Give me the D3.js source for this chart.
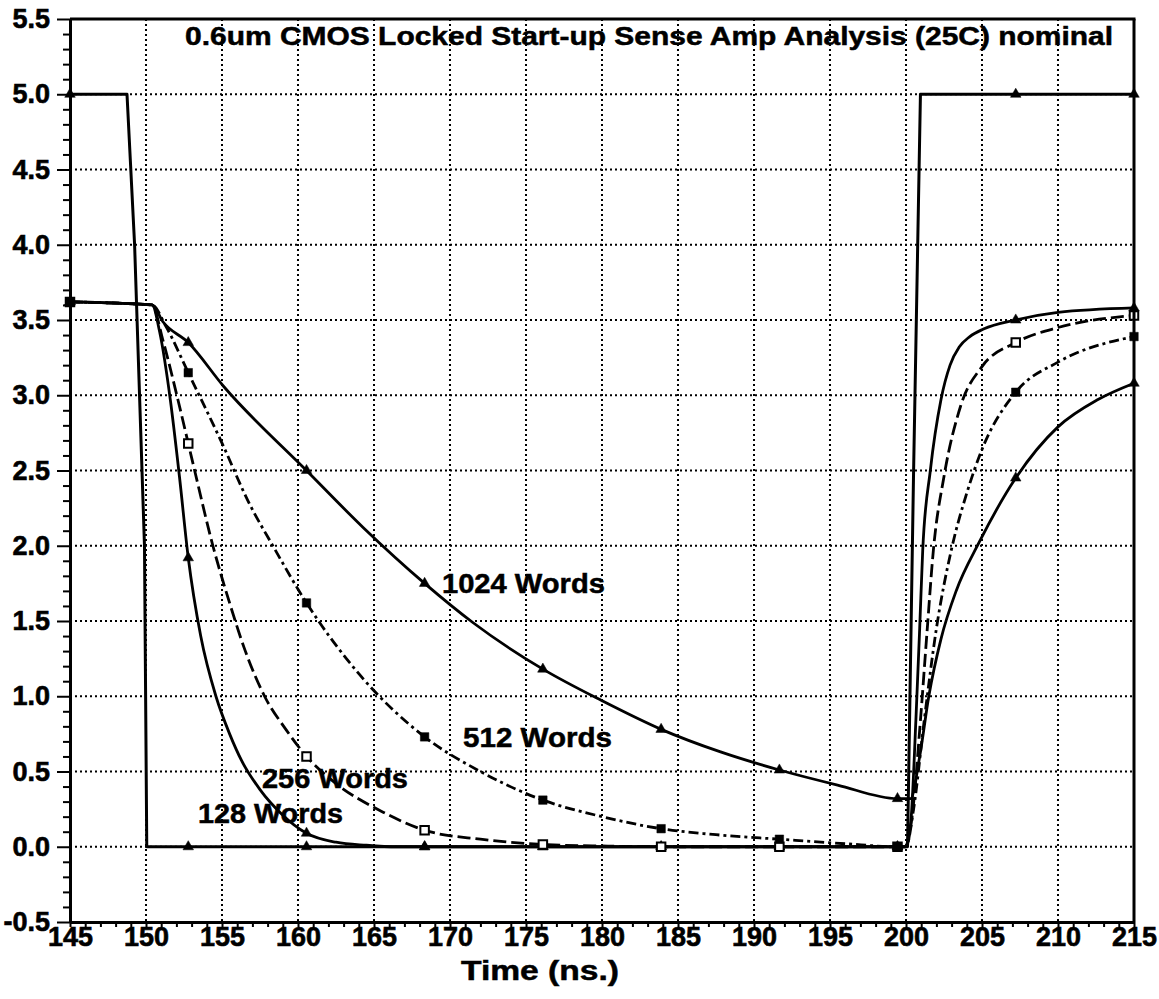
<!DOCTYPE html>
<html><head><meta charset="utf-8">
<script src="https://cdn.jsdelivr.net/npm/d3@7"></script>
<style>
body{margin:0;background:#fff;}
svg{display:block;background:#fff;}
text{font-family:"Liberation Sans",Arial,Helvetica,sans-serif;font-weight:bold;fill:#000;}
</style></head><body>
<svg id="chart" width="1159" height="999"></svg>
<script>
// ---------- data ----------
const xTicks = [145,150,155,160,165,170,175,180,185,190,195,200,205,210,215];
const yTicks = [-0.5,0.0,0.5,1.0,1.5,2.0,2.5,3.0,3.5,4.0,4.5,5.0,5.5];
const markerTimes = [145,152.78,160.56,168.33,176.11,183.89,191.67,199.44,207.22,215];

const tPulse = [145,148.75,149.25,149.9,150.05,200.1,200.5,200.95,215];
const vPulse = [5.0,5.0,4.0,2.0,0.0,0.0,2.5,5.0,5.0];
const mPulse = [5.0,0,0,0,0,0,0,0,5.0,5.0];

const t128 = [145,150.4,150.9,151.6,152.2,152.78,153.6,154.6,155.5,156.3,157.5,158.9,160.56,162.5,164.5,166.5,168.33,176.11,183.89,191.67,199.44,199.9,200.3,200.65,200.9,201.1,201.6,202.3,202.9,203.5,204.2,205.1,207.22,210,215];
const v128 = [3.62,3.6,3.42,2.97,2.46,1.92,1.4,1.0,0.75,0.57,0.38,0.22,0.09,0.03,0.01,0.0,0,0,0,0,0,0,0.15,0.84,1.45,1.97,2.5,2.97,3.2,3.32,3.39,3.44,3.5,3.55,3.58];
const m128 = [3.62,1.92,0.09,0,0,0,0,0,3.5,3.58];

const t256 = [145,150.4,151.1,152.1,152.78,153.2,154.4,155.5,156.5,157.8,159.2,160.56,162.5,165.6,168.33,172,176.11,180,183.89,191.67,199.44,200.0,200.4,200.95,201.4,201.8,202.5,203.6,205,207.22,210,215];
const v256 = [3.62,3.6,3.37,2.97,2.68,2.5,2.0,1.62,1.31,1.0,0.78,0.6,0.42,0.23,0.11,0.05,0.015,0.005,0,0,0,0,0.2,0.84,1.45,1.97,2.46,2.93,3.19,3.35,3.45,3.53];
const m256 = [3.62,2.68,0.6,0.11,0.015,0,0,0,3.35,3.53];

const t512 = [145,150.4,151.3,152.78,155.1,156.7,158.4,160.56,164,168.33,172,176.11,180,183.89,187.5,191.67,196,199.44,200.0,200.5,201.2,202.0,203,204,205,207.22,210,215];
const v512 = [3.62,3.6,3.46,3.15,2.66,2.3,1.99,1.62,1.15,0.73,0.5,0.31,0.2,0.12,0.08,0.05,0.02,0.0,0.0,0.25,0.84,1.45,1.98,2.35,2.64,3.02,3.22,3.39];
const m512 = [3.62,3.15,1.62,0.73,0.31,0.12,0.05,0.0,3.02,3.39];

const t1024 = [145,150.4,151.1,152.78,155.1,160.56,164.3,168.33,171.5,176.11,180,183.89,187.8,191.67,195.5,199.44,200.3,200.9,201.5,202.3,203.3,204.8,207.22,210,212.6,215];
const v1024 = [3.62,3.6,3.49,3.35,3.06,2.5,2.12,1.75,1.49,1.18,0.97,0.78,0.63,0.51,0.41,0.32,0.32,0.6,1.0,1.38,1.7,2.02,2.45,2.79,2.97,3.08];
const m1024 = [3.62,3.35,2.5,1.75,1.18,0.78,0.51,0.32,2.45,3.08];

const seriesNames = ["128 Words","256 Words","512 Words","1024 Words"];
const labelT = [153.42,157.63,170.86,169.47];
const labelV = [0.158,0.39,0.663,1.686];
const titleText = "0.6um CMOS Locked Start-up Sense Amp Analysis (25C) nominal";
const xTitle = "Time (ns.)";

// ---------- chart ----------
const svg = d3.select("#chart");
const x = d3.scaleLinear().domain([145,215]).range([70,1134]);
const y = d3.scaleLinear().domain([-0.5,5.5]).range([922,19]);

// grid
const grid = svg.append("g").attr("stroke","#000").attr("stroke-width",2).attr("stroke-dasharray","2,3");
grid.selectAll("line.v").data(xTicks.slice(1,-1)).enter().append("line")
  .attr("x1",d=>x(d)).attr("x2",d=>x(d)).attr("y1",y(5.5)).attr("y2",y(-0.5));
grid.selectAll("line.h").data(yTicks.slice(1,-1)).enter().append("line")
  .attr("y1",d=>y(d)).attr("y2",d=>y(d)).attr("x1",x(145)).attr("x2",x(215));

const zip = (ts,vs)=>ts.map((t,i)=>[t,vs[i]]);
const lineSmooth = d3.line().x(d=>x(d[0])).y(d=>y(d[1])).curve(d3.curveMonotoneX);
const lineLin = d3.line().x(d=>x(d[0])).y(d=>y(d[1]));

const series = [
  {pts:zip(t128,v128), m:m128, dash:null, mk:"tri"},
  {pts:zip(t256,v256), m:m256, dash:"13,5", mk:"open"},
  {pts:zip(t512,v512), m:m512, dash:"10,4,3,4", mk:"sq"},
  {pts:zip(t1024,v1024), m:m1024, dash:null, mk:"tri"}
];

const curves = svg.append("g").attr("fill","none").attr("stroke","#000").attr("stroke-width",2.8).attr("stroke-linejoin","round");
curves.append("path").attr("d",lineLin(zip(tPulse,vPulse))).attr("stroke-width",3);
series.forEach(s=>{
  const p = curves.append("path").attr("d",lineSmooth(s.pts));
  if(s.dash) p.attr("stroke-dasharray",s.dash);
});

// markers
const mg = svg.append("g");
const tri = d3.symbol(d3.symbolTriangle,48)();
const sqr = d3.symbol(d3.symbolSquare,72)();
function drawMarkers(vals,kind){
  mg.selectAll(null).data(markerTimes.map((t,i)=>[t,vals[i]])).enter().append("path")
    .attr("transform",d=>`translate(${x(d[0])},${y(d[1])})`)
    .attr("d",kind==="tri"?tri:sqr)
    .attr("fill",kind==="open"?"#fff":"#000")
    .attr("stroke","#000").attr("stroke-width",kind==="open"?2:0.5);
}
drawMarkers(mPulse,"tri");
series.forEach(s=>drawMarkers(s.m,s.mk));

// axes
svg.append("g").attr("transform",`translate(${x(145)},0)`)
  .call(d3.axisLeft(y).tickValues(yTicks).tickSize(13).tickPadding(7).tickSizeOuter(0).tickFormat(d=>d.toFixed(1)));
const yMinor = d3.range(-0.5,5.51,0.1).filter(v=>Math.abs(v*2-Math.round(v*2))>1e-6);
svg.append("g").attr("transform",`translate(${x(145)},0)`)
  .call(d3.axisLeft(y).tickValues(yMinor).tickSize(7).tickSizeOuter(0).tickFormat(""))
  .call(g=>g.select(".domain").remove());
svg.append("g").attr("transform",`translate(0,${y(-0.5)})`)
  .call(d3.axisBottom(x).tickValues(xTicks).tickSize(5).tickPadding(0).tickSizeOuter(0).tickFormat(d=>String(d)));
const xMinor = d3.range(145,216,1).filter(v=>v%5!==0);
svg.append("g").attr("transform",`translate(0,${y(-0.5)})`)
  .call(d3.axisBottom(x).tickValues(xMinor).tickSize(5).tickSizeOuter(0).tickFormat(""))
  .call(g=>g.select(".domain").remove());

svg.selectAll(".domain").attr("stroke","#000").attr("stroke-width",3);
svg.selectAll(".tick line").attr("stroke","#000").attr("stroke-width",2);
svg.selectAll(".tick text").attr("font-size",27).attr("font-family",'"Liberation Sans",Arial,sans-serif')
  .attr("font-weight","bold").attr("fill","#000").attr("stroke","#000").attr("stroke-width",0.6);

// frame top & right
svg.append("line").attr("x1",x(145)).attr("x2",x(215)+1.5).attr("y1",y(5.5)).attr("y2",y(5.5)).attr("stroke","#000").attr("stroke-width",3);
svg.append("line").attr("x1",x(215)).attr("x2",x(215)).attr("y1",y(5.5)).attr("y2",y(-0.5)).attr("stroke","#000").attr("stroke-width",3);

// title
svg.append("text").attr("x",x(152.57)).attr("y",y(5.327)).attr("font-size",25.5)
  .attr("stroke","#000").attr("stroke-width",0.5)
  .attr("textLength",928).attr("lengthAdjust","spacingAndGlyphs").text(titleText);

// series labels
const labelWidths = [145,146,149,163];
seriesNames.forEach((n,i)=>{
  svg.append("text").attr("x",x(labelT[i])).attr("y",y(labelV[i])).attr("font-size",27)
    .attr("stroke","#000").attr("stroke-width",0.5)
    .attr("textLength",labelWidths[i]).attr("lengthAdjust","spacingAndGlyphs").text(n);
});

// x axis title
svg.append("text").attr("x",540).attr("y",980).attr("font-size",27).attr("text-anchor","middle")
  .attr("stroke","#000").attr("stroke-width",0.5)
  .attr("textLength",158).attr("lengthAdjust","spacingAndGlyphs").text(xTitle);
</script>
</body></html>
